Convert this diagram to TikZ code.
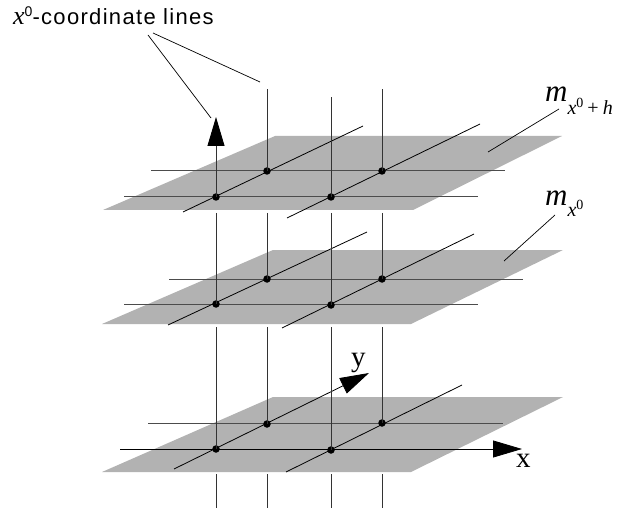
\documentclass[tikz,border=0pt]{standalone}
\usepackage{fontspec}
\setmainfont{Liberation Serif}
\newfontfamily\sansf[LetterSpace=6]{Liberation Sans}
\newfontfamily\sansplain{Liberation Sans}
\usetikzlibrary{arrows.meta}
\begin{document}
\begin{tikzpicture}[x=1pt,y=-1pt,
  plane/.style={fill=black!30, draw=none},
  hline/.style={draw=black!70, line width=1pt},
  diag/.style={draw=black, line width=0.8pt},
  vline/.style={draw=black!80, line width=0.9pt},
  leader/.style={draw=black, line width=0.7pt},
  dot/.style={circle, fill=black, inner sep=0pt, minimum size=7.5pt},
  bigtip/.style={-{Triangle[length=29pt,width=17pt,color=black]}},
  lab/.style={inner sep=0pt, anchor=base west}]
\useasboundingbox (0,0) rectangle (617,510);

% ---------- planes ----------
\fill[plane] (103,210) -- (413,210) -- (562,136) -- (275,136) -- cycle;
\fill[plane] (102,324) -- (411,324) -- (563,250) -- (273,250) -- cycle;
\fill[plane] (102,472) -- (411,472) -- (563,397) -- (273,397) -- cycle;

% ---------- top plane grid ----------
\draw[hline] (151,171) -- (505,171);
\draw[hline] (124,197) -- (478,197);
\draw[diag] (183,212) -- (363,126);
\draw[diag] (287,218) -- (480,124);

% ---------- middle plane grid ----------
\draw[hline] (169,279) -- (523,279);
\draw[hline] (124,304) -- (478,304);
\draw[diag] (168,325) -- (367,232);
\draw[diag] (282,328) -- (474,234);

% ---------- bottom plane grid ----------
\draw[hline] (148,423) -- (503,423);
\coordinate (xtip) at (522,449);
\coordinate (ytip) at (369,373);
\draw[diag, bigtip] (120,449) -- (xtip);
\draw[diag, bigtip] (174,469) -- (ytip);
\draw[diag] (286,472) -- (462,385);

% ---------- dots ----------
\node[dot] (t1) at (216,197) {};
\node[dot] (t2) at (267,171) {};
\node[dot] (t3) at (331,197) {};
\node[dot] (t4) at (382,171) {};
\node[dot] (m1) at (216,304) {};
\node[dot] (m2) at (267,279) {};
\node[dot] (m3) at (331,305) {};
\node[dot] (m4) at (382,279) {};
\node[dot] (b1) at (216,449) {};
\node[dot] (b2) at (267,424) {};
\node[dot] (b3) at (331,450) {};
\node[dot] (b4) at (382,423) {};

% ---------- vertical x0 lines ----------
\coordinate (ztip) at (216,117);
\coordinate (u2) at (267,89);
\coordinate (u3) at (331,97);
\coordinate (u4) at (382,89);
\draw[vline, bigtip] (t1.center) -- (ztip);
\draw[vline] (t2.center) -- (u2);
\draw[vline] (t3.center) -- (u3);
\draw[vline] (t4.center) -- (u4);

\foreach \x/\n in {216/1,267/2,331/3,382/4}{
  \coordinate (s\n) at (\x,213);
  \coordinate (r\n) at (\x,327);
  \coordinate (q\n) at (\x,474);
  \coordinate (p\n) at (\x,508);
  \draw[vline] (s\n) -- (m\n.center);
  \draw[vline] (r\n) -- (b\n.center);
  \draw[vline] (q\n) -- (p\n);
}

% ---------- labels ----------
\node[lab] (lbl) at (13,25) {{\fontsize{26}{26}\selectfont\itshape x}\raisebox{8.5pt}{\sansplain\fontsize{14}{14}\selectfont 0}{\sansf\fontsize{22}{22}\selectfont -coordinate lines}};
\coordinate (la) at (148,35);
\coordinate (lb) at (153,33);
\coordinate (lae) at (211,118);
\coordinate (lbe) at (260,82);
\draw[leader] (la) -- (lae);
\draw[leader] (lb) -- (lbe);

\node[lab] (mh) at (545,102) {{\fontsize{31}{31}\selectfont\itshape m}\raisebox{-13pt}{\fontsize{20}{20}\selectfont\itshape x\raisebox{7pt}{\upshape\fontsize{14}{14}\selectfont 0}\hspace{4pt}{\upshape +}\hspace{4pt}h}};
\coordinate (mha) at (559,109);
\coordinate (mhb) at (488,152);
\draw[leader] (mha) -- (mhb);

\node[lab] (m0) at (545,206) {{\fontsize{31}{31}\selectfont\itshape m}\raisebox{-11pt}{\fontsize{20}{20}\selectfont\itshape x\raisebox{7pt}{\upshape\fontsize{14}{14}\selectfont 0}}};
\coordinate (m0a) at (555,215);
\coordinate (m0b) at (504,261);
\draw[leader] (m0a) -- (m0b);

\node[lab] (ylab) at (351,366) {\fontsize{29}{29}\selectfont y};
\node[lab] (xlab) at (516,467) {\fontsize{29}{29}\selectfont x};
\end{tikzpicture}
\end{document}
